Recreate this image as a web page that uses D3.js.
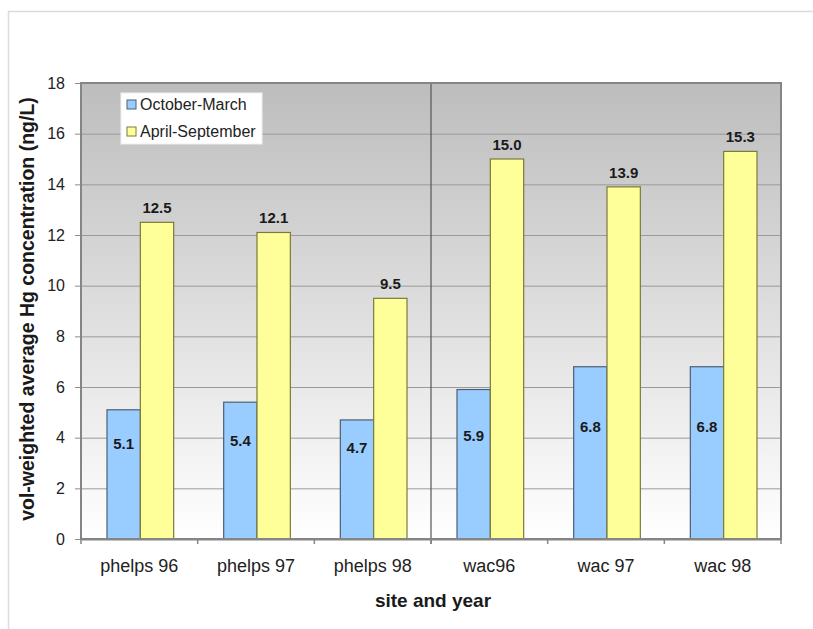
<!DOCTYPE html>
<html>
<head>
<meta charset="utf-8">
<script src="https://cdn.jsdelivr.net/npm/d3@7"></script>
<style>
  html, body { margin: 0; padding: 0; background: #fff; }
  svg { display: block; font-family: "Liberation Sans", Arial, sans-serif; }
</style>
</head>
<body>
<svg id="chart" width="813" height="629"></svg>
<script>
// Volume-weighted average Hg concentration by site/year and season
const categories = ["phelps 96", "phelps 97", "phelps 98", "wac96", "wac 97", "wac 98"];
const seriesNames = ["October-March", "April-September"];
const octMar = [5.1, 5.4, 4.7, 5.9, 6.8, 6.8];
const aprSep = [12.5, 12.1, 9.5, 15.0, 13.9, 15.3];
const yTicks = [0, 2, 4, 6, 8, 10, 12, 14, 16, 18];
const seriesColors = ["#99ccff", "#ffff99"];
const seriesStroke = ["#4d5f73", "#7a7a3c"];

const svg = d3.select("#chart");
const plot = { left: 81, top: 83, right: 781, bottom: 539 };

// outer chart frame
svg.append("rect")
  .attr("x", 8.5).attr("y", 11.5)
  .attr("width", 900).attr("height", 700)
  .attr("fill", "#fff").attr("stroke", "#dcdcdc").attr("stroke-width", 1.5);

const x0 = d3.scaleBand().domain(categories).range([plot.left, plot.right]).paddingInner(0).paddingOuter(0);
const x1 = d3.scaleBand().domain(seriesNames).range([x0.bandwidth() * 0.75 / 3.5 + 1, x0.bandwidth() * 2.75 / 3.5 + 1]);
const y = d3.scaleLinear().domain([0, 18]).range([plot.bottom, plot.top]);

// plot background gradient
const defs = svg.append("defs");
const grad = defs.append("linearGradient").attr("id", "bg").attr("x1", 0).attr("y1", 0).attr("x2", 0).attr("y2", 1);
grad.append("stop").attr("offset", "0%").attr("stop-color", "#bdbdbd");
grad.append("stop").attr("offset", "100%").attr("stop-color", "#ffffff");
svg.append("rect")
  .attr("x", plot.left).attr("y", plot.top)
  .attr("width", plot.right - plot.left).attr("height", plot.bottom - plot.top)
  .attr("fill", "url(#bg)");

// gridlines and y axis
const yAxis = d3.axisLeft(y).tickValues(yTicks).tickSize(6).tickPadding(10).tickFormat(d3.format("d"));
const gy = svg.append("g").attr("transform", `translate(${plot.left},0)`).call(yAxis);
gy.select(".domain").remove();
gy.selectAll(".tick line").attr("stroke", "#8c8c8c").attr("x2", -6);
gy.selectAll(".tick").append("line")
  .attr("x1", 0).attr("x2", plot.right - plot.left)
  .attr("stroke", "#9a9a9a").attr("stroke-width", 1);
gy.selectAll(".tick text")
  .attr("font-size", 16).attr("fill", "#222")
  .attr("font-family", "Liberation Sans, Arial, sans-serif");

// divider between the two sites
svg.append("line")
  .attr("x1", x0("wac96")).attr("x2", x0("wac96"))
  .attr("y1", plot.top).attr("y2", plot.bottom + 5)
  .attr("stroke", "#555").attr("stroke-width", 1.2);

// bars
const groups = svg.append("g").selectAll("g")
  .data(categories).join("g")
  .attr("transform", d => `translate(${x0(d)},0)`);

const vals = [octMar, aprSep];
groups.each(function(cat, i) {
  const g = d3.select(this);
  seriesNames.forEach((s, k) => {
    const v = vals[k][i];
    g.append("rect")
      .attr("x", x1(s)).attr("y", y(v))
      .attr("width", x1.bandwidth()).attr("height", y(0) - y(v))
      .attr("fill", seriesColors[k]).attr("stroke", seriesStroke[k]).attr("stroke-width", 1.2);
  });
  // value labels
  const vb = octMar[i];
  g.append("text")
    .attr("x", x1(seriesNames[0]) + x1.bandwidth() / 2)
    .attr("y", y(vb * 0.4 + 1.7) + 5)
    .attr("text-anchor", "middle").attr("font-size", 15).attr("font-weight", "bold").attr("fill", "#1a1a1a")
    .text(vb.toFixed(1));
  const va = aprSep[i];
  g.append("text")
    .attr("x", x1(seriesNames[1]) + x1.bandwidth() / 2)
    .attr("y", y(va) - 9)
    .attr("text-anchor", "middle").attr("font-size", 15).attr("font-weight", "bold").attr("fill", "#1a1a1a")
    .text(va.toFixed(1));
});

// plot border
svg.append("rect")
  .attr("x", plot.left).attr("y", plot.top)
  .attr("width", plot.right - plot.left).attr("height", plot.bottom - plot.top)
  .attr("fill", "none").attr("stroke", "#858585").attr("stroke-width", 2);

// x axis
const xAxis = d3.axisBottom(x0).tickSize(0).tickPadding(20);
const gx = svg.append("g").attr("transform", `translate(0,${plot.bottom})`).call(xAxis);
gx.select(".domain").attr("stroke", "#858585").attr("stroke-width", 2);
gx.selectAll(".tick text").attr("font-size", 18).attr("fill", "#222")
  .attr("font-family", "Liberation Sans, Arial, sans-serif");
// category boundary tick marks
svg.append("g").selectAll("line")
  .data(categories.concat(["end"]))
  .join("line")
  .attr("x1", (d, i) => plot.left + i * x0.bandwidth())
  .attr("x2", (d, i) => plot.left + i * x0.bandwidth())
  .attr("y1", plot.bottom).attr("y2", plot.bottom + 5)
  .attr("stroke", "#858585").attr("stroke-width", 1.5);

// axis titles
svg.append("text")
  .attr("x", (plot.left + plot.right) / 2 + 2).attr("y", 607)
  .attr("text-anchor", "middle").attr("font-size", 19).attr("font-weight", "bold").attr("fill", "#1a1a1a")
  .text("site and year");
svg.append("text")
  .attr("transform", `translate(34,${(plot.top + plot.bottom) / 2 - 2}) rotate(-90)`)
  .attr("text-anchor", "middle").attr("font-size", 19.5).attr("font-weight", "bold").attr("fill", "#1a1a1a")
  .text("vol-weighted average Hg concentration (ng/L)");

// legend
const lg = svg.append("g").attr("transform", "translate(121,93)");
lg.append("rect").attr("width", 141).attr("height", 51).attr("fill", "#fff").attr("stroke", "#f0f0f0");
seriesNames.forEach((s, k) => {
  lg.append("rect")
    .attr("x", 6).attr("y", 7 + k * 27)
    .attr("width", 9).attr("height", 9)
    .attr("fill", seriesColors[k]).attr("stroke", seriesStroke[k]).attr("stroke-width", 1);
  lg.append("text")
    .attr("x", 19).attr("y", 17 + k * 27)
    .attr("font-size", 16).attr("fill", "#222")
    .text(s);
});
</script>
</body>
</html>
